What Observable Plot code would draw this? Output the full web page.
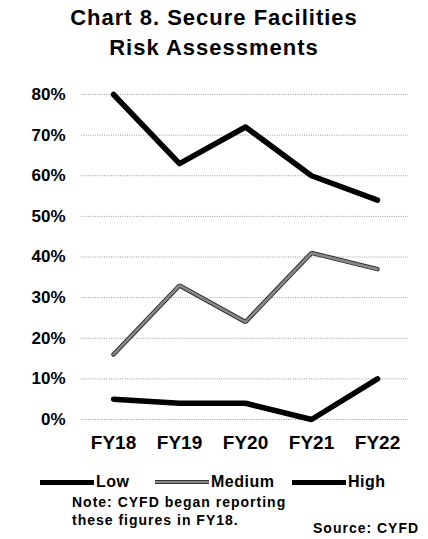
<!DOCTYPE html>
<html>
<head>
<meta charset="utf-8">
<script src="https://cdn.jsdelivr.net/npm/d3@7"></script>
<script src="https://cdn.jsdelivr.net/npm/@observablehq/plot@0.6"></script>
<style>
  html, body { margin: 0; padding: 0; background: #fff; }
  body { width: 428px; height: 539px; position: relative; overflow: hidden;
         font-family: "Liberation Sans", Arial, sans-serif; color: #000; }
  #title { position: absolute; left: 0; top: 3px; width: 428px; text-align: center;
           font-weight: bold; font-size: 22px; line-height: 30px; letter-spacing: 1px; }
  #chart { position: absolute; left: 0; top: 70px; }
  .leg { position: absolute; display: flex; align-items: center; font-weight: bold;
         font-size: 16px; letter-spacing: 0.5px; height: 20px; }
  .leg .sw { display: inline-block; width: 54px; margin-right: 2px; }
  .note { position: absolute; font-weight: bold; font-size: 14px; letter-spacing: 1px; }
</style>
</head>
<body>
<div id="title">Chart 8. Secure Facilities<br>Risk Assessments</div>
<div id="chart"></div>
<div id="legend"></div>
<div class="note" style="left:72px; top:494px;">Note: CYFD began reporting</div>
<div class="note" style="left:72px; top:512px;">these figures in FY18.</div>
<div class="note" style="left:313px; top:520px;">Source: CYFD</div>
<script>
const years = ["FY18", "FY19", "FY20", "FY21", "FY22"];
const low = [80, 63, 72, 60, 54];
const medium = [16, 33, 24, 41, 37];
const high = [5, 4, 4, 0, 10];
const yTicks = [0, 10, 20, 30, 40, 50, 60, 70, 80];
const seriesNames = ["Low", "Medium", "High"];
const seriesColors = ["#000000", "#8a8a8a", "#000000"];

const rows = (vals, s) => years.map((y, i) => ({year: y, value: vals[i], series: s}));
const lowRows = rows(low, "Low");
const medRows = rows(medium, "Medium");
const highRows = rows(high, "High");

const chart = Plot.plot({
  width: 428,
  height: 390,
  marginTop: 24,
  marginBottom: 41,
  marginLeft: 81,
  marginRight: 20,
  style: {fontFamily: "'Liberation Sans', Arial, sans-serif", background: "#fff", overflow: "visible"},
  x: {type: "point", domain: years, padding: 0.47, label: null},
  y: {domain: [0, 80], label: null},
  marks: [
    Plot.gridY(yTicks, {stroke: "#9a9a9a", strokeOpacity: 1, strokeDasharray: "1,1.3", strokeWidth: 1}),
    Plot.axisY(yTicks, {tickSize: 0, tickPadding: 16, tickFormat: d => d + "%",
      fontSize: 17, fontWeight: "bold", fill: "#000", style: "letter-spacing:2.5px"}),
    Plot.axisX({tickSize: 0, tickPadding: 16, fontSize: 19, fontWeight: "bold", fill: "#000",
      style: "letter-spacing:0.5px"}),
    Plot.lineY(highRows, {x: "year", y: "value", stroke: seriesColors[2], strokeWidth: 5.5, strokeLinejoin: "round"}),
    Plot.lineY(medRows, {x: "year", y: "value", stroke: "#333", strokeWidth: 4.5, strokeLinejoin: "miter"}),
    Plot.lineY(medRows, {x: "year", y: "value", stroke: seriesColors[1], strokeWidth: 2.5, strokeLinejoin: "miter"}),
    Plot.lineY(lowRows, {x: "year", y: "value", stroke: seriesColors[0], strokeWidth: 5.5, strokeLinejoin: "round"})
  ]
});
document.getElementById("chart").appendChild(chart);

// Legend
const legPos = [40, 155, 292];
const legend = document.getElementById("legend");
seriesNames.forEach((name, i) => {
  const item = document.createElement("div");
  item.className = "leg";
  item.style.left = legPos[i] + "px";
  item.style.top = "472px";
  const sw = document.createElement("span");
  sw.className = "sw";
  if (name === "Medium") {
    sw.style.background = seriesColors[1];
    sw.style.borderTop = "1px solid #333";
    sw.style.borderBottom = "1px solid #333";
    sw.style.height = "2px";
  } else {
    sw.style.height = "5px";
    sw.style.background = seriesColors[i];
  }
  item.appendChild(sw);
  const t = document.createElement("span");
  t.textContent = name;
  item.appendChild(t);
  legend.appendChild(item);
});
</script>
</body>
</html>
